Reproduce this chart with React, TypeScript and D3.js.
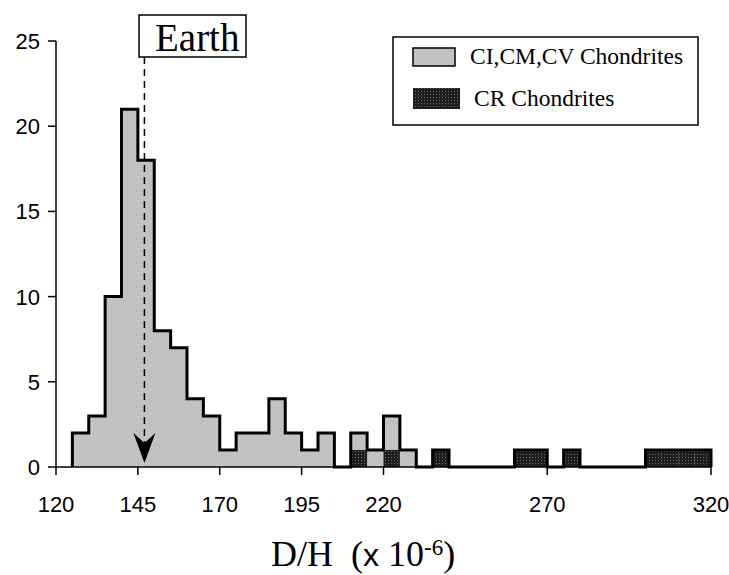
import React from "react";
import * as d3 from "d3";

const binStarts = [125,130,135,140,145,150,155,160,165,170,175,180,185,190,195,200,205,210,215,220,225,230,235,240,245,250,255,260,265,270,275,280,285,290,295,300,305,310,315];
const ciCounts = [2,3,10,21,18,8,7,4,3,1,2,2,4,2,1,2,0,1,1,2,1,0,0,0,0,0,0,0,0,0,0,0,0,0,0,0,0,0,0];
const crCounts = [0,0,0,0,0,0,0,0,0,0,0,0,0,0,0,0,0,1,0,1,0,0,1,0,0,0,0,1,1,0,1,0,0,0,0,1,1,1,1];
const binWidth = 5;
const xTicks = [120,145,170,195,220,270,320];
const yTicks = [0,5,10,15,20,25];
const earthValue = 147;
const legendLabels = ["CI,CM,CV Chondrites", "CR Chondrites"];

const SERIF = "'Liberation Serif', 'Times New Roman', serif";
const SANS = "'Liberation Sans', Arial, Helvetica, sans-serif";
const GRAY = "#c2c2c2";

export default function App() {
  const x = d3.scaleLinear().domain([120, 320]).range([56, 711]);
  const y = d3.scaleLinear().domain([0, 25]).range([467, 41]);

  const totals = ciCounts.map((c, i) => c + crCounts[i]);
  const pts: [number, number][] = [[binStarts[0], 0]];
  binStarts.forEach((s, i) => pts.push([s, totals[i]]));
  const lastEnd = binStarts[binStarts.length - 1] + binWidth;
  pts.push([lastEnd, totals[totals.length - 1]]);
  pts.push([lastEnd, 0]);
  const outline = d3
    .line<[number, number]>()
    .x((d) => x(d[0]))
    .y((d) => y(d[1]))
    .curve(d3.curveStepAfter)(pts) as string;
  const fillArea = d3
    .area<[number, number]>()
    .x((d) => x(d[0]))
    .y0(y(0))
    .y1((d) => y(d[1]))
    .curve(d3.curveStepAfter)(pts) as string;

  const ax = x(earthValue);

  return (
    <svg
      width={729}
      height={575}
      style={{ position: "absolute", left: 0, top: 0, background: "#fff" }}
    >
      <defs>
        <pattern id="crPat" width={3} height={3} patternUnits="userSpaceOnUse">
          <rect width={3} height={3} fill="#1e1e1e" />
          <rect x={1} y={1} width={1} height={1} fill="#6a6a6a" />
        </pattern>
      </defs>

      {/* gray fill of the whole histogram */}
      <path d={fillArea} fill={GRAY} stroke="none" />
      {/* CR bars */}
      {binStarts.map((s, i) =>
        crCounts[i] > 0 ? (
          <rect
            key={"cr" + s}
            x={x(s)}
            y={y(crCounts[i])}
            width={x(s + binWidth) - x(s)}
            height={y(0) - y(crCounts[i])}
            fill="url(#crPat)"
          />
        ) : null
      )}

      {/* axes */}
      <line x1={x(120)} x2={x(120)} y1={y(25)} y2={y(0)} stroke="#000" strokeWidth={1.5} />
      <line x1={x(120)} x2={x(320)} y1={y(0)} y2={y(0)} stroke="#000" strokeWidth={1.5} />
      {yTicks.map((t) => (
        <g key={"yt" + t}>
          <line x1={x(120) - 8} x2={x(120)} y1={y(t)} y2={y(t)} stroke="#000" strokeWidth={1.5} />
          <text
            x={x(120) - 16}
            y={y(t)}
            dy="0.36em"
            textAnchor="end"
            fontFamily={SANS}
            fontSize={22}
          >
            {t}
          </text>
        </g>
      ))}
      {xTicks.map((t) => (
        <g key={"xt" + t}>
          <line x1={x(t)} x2={x(t)} y1={y(0)} y2={y(0) + 8} stroke="#000" strokeWidth={1.5} />
          <text x={x(t)} y={512} textAnchor="middle" fontFamily={SANS} fontSize={22}>
            {t}
          </text>
        </g>
      ))}

      {/* histogram outline */}
      <path d={outline} fill="none" stroke="#000" strokeWidth={3} strokeLinejoin="miter" />

      {/* Earth marker */}
      <line
        x1={ax}
        x2={ax}
        y1={57}
        y2={445}
        stroke="#000"
        strokeWidth={1.5}
        strokeDasharray="7,5"
      />
      <path
        d={`M ${ax} 463 L ${ax - 11} 433 L ${ax} 443 L ${ax + 11} 433 Z`}
        fill="#000"
      />
      <rect x={139} y={15} width={107} height={42} fill="#fff" stroke="#000" strokeWidth={1.5} />
      <text x={155} y={51} fontFamily={SERIF} fontSize={39}>
        Earth
      </text>

      {/* legend */}
      <rect x={393} y={37} width={305} height={88} fill="#fff" stroke="#000" strokeWidth={1.5} />
      <rect x={413} y={48} width={42} height={18} fill={GRAY} stroke="#000" strokeWidth={1.5} />
      <text x={470} y={64} fontFamily={SERIF} fontSize={23.5}>
        {legendLabels[0]}
      </text>
      <rect x={413} y={88} width={47} height={21} fill="url(#crPat)" />
      <text x={474} y={106} fontFamily={SERIF} fontSize={23.5}>
        {legendLabels[1]}
      </text>

      {/* x-axis title */}
      <text x={271} y={566} fontFamily={SERIF} fontSize={36} style={{ whiteSpace: "pre" }}>
        {"D/H  ("}
        <tspan fontFamily={SANS} fontSize={32}>x</tspan>
        {" 10"}
        <tspan dy={-11} fontSize={23}>-6</tspan>
        <tspan dy={11}>)</tspan>
      </text>
    </svg>
  );
}
